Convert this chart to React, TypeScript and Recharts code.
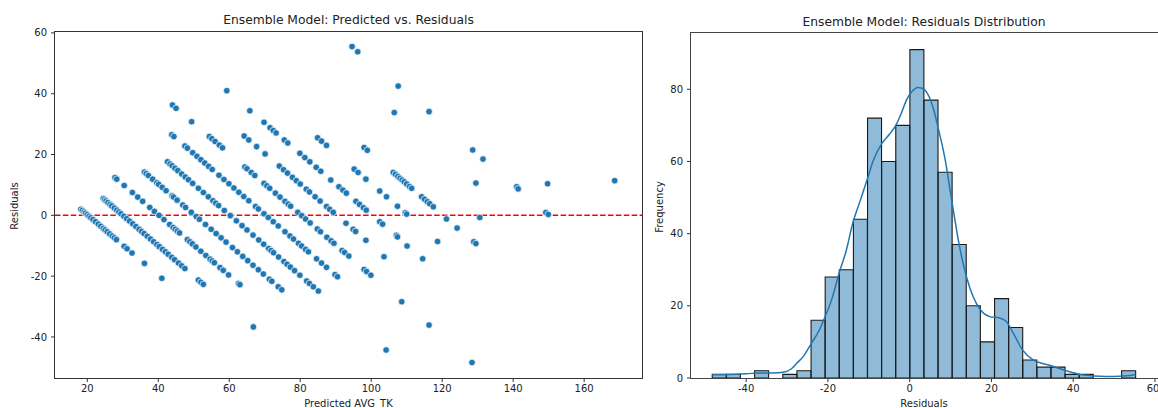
import {
  ScatterChart,
  Scatter,
  ComposedChart,
  Bar,
  Line,
  XAxis,
  YAxis,
  ReferenceLine,
} from "recharts";

// [predicted, residual] pairs, grouped by the diagonal band they sit on
const band20 = [
  [18.2, 2.0], [18.6, 1.6], [19.1, 1.1], [19.5, 0.7], [20.0, 0.2], [20.5, -0.3],
  [21.0, -0.8], [21.6, -1.4], [22.3, -2.1], [23.1, -2.9], [23.8, -3.6], [24.5, -4.3],
  [25.0, -4.8], [25.6, -5.4], [26.3, -6.1], [27.0, -6.8], [27.6, -7.4], [28.2, -8.0],
  [30.4, -10.2], [31.2, -11.0], [32.6, -12.4], [36.1, -15.8], [41.0, -20.7],
];
const band30 = [
  [24.5, 5.5], [24.9, 5.1], [25.3, 4.7], [25.8, 4.2], [26.4, 3.6], [26.9, 3.1],
  [27.6, 2.4], [28.3, 1.7], [28.9, 1.1], [29.5, 0.5], [30.3, -0.3], [31.1, -1.1],
  [31.9, -1.9], [32.8, -2.8], [33.7, -3.7], [34.6, -4.6], [35.3, -5.3], [36.0, -6.0],
  [36.9, -6.9], [37.8, -7.8], [38.7, -8.7], [39.6, -9.6], [40.3, -10.3], [41.2, -11.2],
  [42.0, -12.0], [42.8, -12.8], [43.8, -13.8], [44.6, -14.6], [45.7, -15.7], [46.6, -16.6],
  [47.5, -17.5], [51.3, -21.3], [52.0, -22.0], [52.7, -22.7],
];
const band40 = [
  [27.8, 12.4], [28.3, 11.9], [30.4, 9.8], [32.7, 7.5], [34.2, 6.0], [35.6, 4.6],
  [37.6, 2.6], [38.9, 1.3], [40.2, 0.0], [41.6, -1.4], [43.2, -3.0], [44.2, -4.0],
  [44.8, -4.6], [45.4, -5.2], [46.0, -5.8], [48.2, -8.0], [48.9, -8.7], [49.6, -9.4],
  [50.6, -10.4], [52.0, -11.8], [53.4, -13.2], [54.6, -14.4], [55.2, -15.0], [55.8, -15.6],
  [57.4, -17.2], [58.3, -18.1], [59.8, -19.6], [62.6, -22.4], [63.0, -22.8],
];
const band50 = [
  [36.1, 14.2], [36.6, 13.7], [37.2, 13.1], [38.4, 11.9], [39.6, 10.7], [40.1, 10.2],
  [41.1, 9.2], [42.2, 8.1], [43.9, 6.4], [44.3, 6.0], [45.3, 5.0], [46.9, 3.4],
  [47.7, 2.6], [49.3, 1.0], [50.7, -0.4], [51.6, -1.3], [53.3, -3.0], [54.9, -4.6],
  [56.3, -6.0], [57.7, -7.4], [59.1, -8.8], [60.9, -10.6], [62.3, -12.0], [63.8, -13.5],
  [65.2, -14.9], [66.7, -16.4], [68.2, -17.9], [69.6, -19.3], [71.3, -21.0], [72.0, -21.7],
  [73.8, -23.5], [74.8, -24.5],
];
const band60 = [
  [42.6, 17.6], [43.3, 16.9], [43.9, 16.3], [44.7, 15.5], [45.5, 14.7], [46.6, 13.6],
  [47.6, 12.6], [48.5, 11.7], [49.7, 10.5], [51.3, 8.9], [52.7, 7.5], [54.1, 6.1],
  [55.4, 4.8], [56.2, 4.0], [57.0, 3.2], [58.6, 1.6], [60.3, -0.1], [62.0, -1.8],
  [63.6, -3.4], [65.0, -4.8], [66.7, -6.5], [68.3, -8.1], [69.7, -9.5], [71.1, -10.9],
  [71.8, -11.6], [72.5, -12.3], [73.9, -13.7], [75.4, -15.2], [76.3, -16.1], [77.2, -17.0],
  [78.4, -18.2], [79.9, -19.7], [81.8, -21.6], [82.6, -22.4], [83.7, -23.5], [85.1, -24.9],
];
const band70 = [
  [43.8, 26.5], [44.4, 25.9], [47.5, 22.8], [48.2, 22.1], [49.7, 20.6], [50.9, 19.4],
  [52.0, 18.3], [53.1, 17.2], [54.2, 16.1], [55.2, 15.1], [57.1, 13.2], [58.5, 11.8],
  [59.9, 10.4], [61.3, 9.0], [62.7, 7.6], [64.1, 6.2], [65.5, 4.8], [67.4, 2.9],
  [68.2, 2.1], [69.8, 0.5], [71.0, -0.7], [72.4, -2.1], [73.8, -3.5], [75.7, -5.4],
  [77.1, -6.8], [78.1, -7.8], [79.5, -9.2], [80.4, -10.1], [81.5, -11.2], [82.3, -12.0],
  [84.6, -14.3], [86.0, -15.7], [87.4, -17.1], [89.8, -19.5], [90.5, -20.2],
];
const band80 = [
  [44.0, 36.3], [45.0, 35.2], [49.4, 30.8], [54.4, 25.9], [55.1, 25.2], [56.0, 24.3],
  [57.2, 23.1], [58.1, 22.2], [64.4, 15.9], [65.0, 15.3], [66.2, 14.1], [67.2, 13.1],
  [69.8, 10.5], [70.6, 9.7], [71.4, 8.9], [73.0, 7.3], [74.3, 6.0], [75.7, 4.6],
  [76.6, 3.7], [77.3, 3.0], [79.3, 1.0], [80.4, -0.1], [81.5, -1.2], [82.8, -2.5],
  [84.8, -4.5], [85.7, -5.4], [87.5, -7.2], [88.7, -8.4], [89.5, -9.2], [91.8, -11.6],
  [92.5, -12.2], [93.7, -13.4], [98.0, -17.8], [98.7, -18.5], [99.9, -19.7],
];
const band90 = [
  [64.2, 26.1], [65.5, 24.8], [67.7, 22.6], [70.1, 20.2], [74.1, 16.2], [75.3, 15.0],
  [76.4, 13.9], [77.8, 12.5], [78.9, 11.4], [80.0, 10.3], [81.7, 8.6], [82.6, 7.7],
  [84.2, 6.1], [85.6, 4.7], [87.4, 2.9], [88.3, 2.0], [89.3, 1.0], [92.9, -2.6],
  [94.9, -4.6], [95.6, -5.3], [98.5, -8.2], [103.6, -13.6],
];
const band100 = [
  [59.3, 41.0], [65.8, 34.4], [69.8, 30.6], [71.5, 28.8], [72.4, 27.9], [73.2, 27.1],
  [75.5, 24.8], [76.5, 23.8], [79.9, 20.4], [81.3, 19.0], [82.7, 17.6], [84.5, 15.8],
  [85.8, 14.5], [88.6, 11.6], [90.9, 9.4], [92.0, 8.3], [93.0, 7.3], [95.7, 4.6],
  [96.7, 3.6], [97.8, 2.5], [98.6, 1.7], [102.4, -2.1], [103.2, -2.9], [107.1, -6.6],
  [107.4, -7.1], [110.1, -10.1], [114.5, -14.3],
];
const band110 = [
  [84.9, 25.5], [86.0, 24.4], [87.4, 23.0], [95.2, 15.2], [96.3, 14.1], [98.5, 11.9],
  [102.4, 8.0], [104.3, 6.1], [107.4, 3.0], [109.6, 0.8], [110.0, 0.4], [118.7, -8.6],
];
const band120 = [
  [98.0, 22.3], [98.9, 21.4], [106.2, 14.1], [106.8, 13.5], [107.5, 12.8], [108.1, 12.2],
  [108.7, 11.6], [109.3, 11.0], [110.0, 10.3], [110.8, 9.5], [111.4, 8.9], [114.2, 6.1],
  [115.0, 5.3], [115.8, 4.5], [116.5, 3.8], [117.5, 2.8], [121.2, -1.2], [124.2, -4.2],
  [128.9, -8.7], [129.5, -9.3],
];
const outliers = [
  [94.6, 55.5], [96.2, 53.8], [107.6, 42.5], [106.5, 33.8], [116.3, 34.1], [128.6, 21.5],
  [131.5, 18.5], [129.5, 10.6], [130.6, -0.7], [141.0, 9.4], [141.4, 8.7], [149.7, 10.4],
  [149.2, 0.9], [149.9, 0.3], [168.6, 11.4], [66.8, -36.7], [108.6, -28.4], [116.3, -36.1],
  [104.2, -44.3], [128.4, -48.4],
];

const scatterPoints = [
  ...band20, ...band30, ...band40, ...band50, ...band60, ...band70,
  ...band80, ...band90, ...band100, ...band110, ...band120, ...outliers,
].map(([x, y]) => ({ x, y }));

const scatterXTicks = [20, 40, 60, 80, 100, 120, 140, 160];
const scatterYTicks = [-40, -20, 0, 20, 40, 60];

// histogram: 30 bins from -48.3 to 55.3
const binStart = -48.3;
const binEnd = 55.3;
const binCounts = [
  1, 1, 0, 2, 0, 1, 2, 16, 28, 30, 44, 72, 60, 70, 91,
  77, 57, 37, 20, 10, 22, 14, 5, 3, 3, 1, 1, 0, 0, 2,
];
const bins = binCounts.map((count, i) => ({ bin: `b${i}`, count }));

// kde curve (scaled to counts)
const kdeX = [
  -48.3, -44, -40, -36, -33, -31, -29, -27.7, -26, -24.1, -22, -20.7, -19, -17.3, -15.6,
  -13.9, -12, -10.4, -9, -6.8, -4.9, -3.4, -2, -0.8, 0.5, 2, 3, 4.1, 5.7, 6.9, 8.6, 10.4,
  12.2, 13.9, 15.5, 17.3, 19.6, 22, 23.6, 25.3, 27.6, 30.2, 32.5, 34.6, 38, 41.6, 44, 46.5,
  49.7, 53, 55.3,
];
const kdeY = [
  0.9, 1.0, 1.2, 1.4, 1.4, 1.6, 2.5, 4, 6, 9.5, 13.5, 17, 22, 29, 35,
  43, 49.5, 55, 60, 65, 67.6, 70, 73.5, 77, 79.3, 80.5, 80.3, 79.3, 75, 69.6, 61, 48.4,
  36.4, 28, 22.6, 18.9, 17, 16.6, 15.7, 12.5, 7.8, 5, 4, 3.4, 2.1, 1, 0.7, 0.5,
  0.4, 0.6, 1,
];
const kde = kdeX.map((x, i) => ({ x, y: kdeY[i] }));

const histXTicks = [-40, -20, 0, 20, 40, 60];
const histYTicks = [0, 20, 40, 60, 80];

const FONT = "'DejaVu Sans', sans-serif";
const BLUE = "#1f77b4";
const tickStyle = { fontSize: 10, fill: "#222", fontFamily: FONT };

// right panel geometry
const HIST_W = 508;
const HIST_LEFT_AXIS = 41;
const HIST_MARGIN_RIGHT = 1;
const histDomain: [number, number] = [-53.5, 60.5];
const histPlotW = HIST_W - HIST_LEFT_AXIS - HIST_MARGIN_RIGHT;
const pxPerUnit = histPlotW / (histDomain[1] - histDomain[0]);
const binPadLeft = (binStart - histDomain[0]) * pxPerUnit;
const binPadRight = (histDomain[1] - binEnd) * pxPerUnit;

const Dot = (props: any) => (
  <circle cx={props.cx} cy={props.cy} r={3.3} fill={BLUE} stroke="#fff" strokeWidth={0.7} />
);

const textBase: React.CSSProperties = {
  position: "absolute",
  fontFamily: FONT,
  color: "#222",
  whiteSpace: "nowrap",
  lineHeight: "12px",
};

export default function App() {
  return (
    <div style={{ position: "absolute", left: 0, top: 0, width: 1158, height: 408, background: "#fff", overflow: "hidden" }}>
      {/* left: predicted vs residuals */}
      <div style={{ position: "absolute", left: 0, top: 0 }}>
        <ScatterChart width={650} height={408} margin={{ top: 32, right: 8, bottom: 0, left: 10 }}>
          <XAxis
            type="number"
            dataKey="x"
            domain={[10.9, 176.3]}
            ticks={scatterXTicks}
            allowDataOverflow
            height={30}
            axisLine={false}
            tickLine={{ stroke: "#333" }}
            tickSize={4}
            tickMargin={3}
            tick={tickStyle}
          />
          <YAxis
            type="number"
            dataKey="y"
            domain={[-53.5, 60.3]}
            ticks={scatterYTicks}
            allowDataOverflow
            width={45}
            axisLine={false}
            tickLine={{ stroke: "#333" }}
            tickSize={4}
            tickMargin={4}
            tick={tickStyle}
          />
          <Scatter data={scatterPoints} shape={Dot} isAnimationActive={false} />
          <ReferenceLine y={0} stroke="#ff0000" strokeWidth={1.5} strokeDasharray="5.5 2.4" />
        </ScatterChart>
        <div style={{ position: "absolute", left: 54, top: 31, width: 589, height: 348, border: "1px solid #333", boxSizing: "border-box", pointerEvents: "none" }} />
      </div>

      {/* right: residual distribution */}
      <div style={{ position: "absolute", left: 650, top: 0 }}>
        <ComposedChart
          width={HIST_W}
          height={408}
          data={bins}
          margin={{ top: 33, right: HIST_MARGIN_RIGHT, bottom: 0, left: 0 }}
          barCategoryGap={0}
          barGap={0}
        >
          <XAxis
            xAxisId="num"
            type="number"
            dataKey="x"
            domain={histDomain}
            ticks={histXTicks}
            allowDataOverflow
            height={30}
            axisLine={false}
            tickLine={{ stroke: "#333" }}
            tickSize={4}
            tickMargin={3}
            tick={tickStyle}
          />
          <XAxis
            xAxisId="bins"
            dataKey="bin"
            type="category"
            hide
            height={0}
            padding={{ left: binPadLeft, right: binPadRight }}
          />
          <YAxis
            type="number"
            domain={[0, 95.6]}
            ticks={histYTicks}
            allowDataOverflow
            width={HIST_LEFT_AXIS}
            axisLine={false}
            tickLine={{ stroke: "#333" }}
            tickSize={4}
            tickMargin={4}
            tick={tickStyle}
          />
          <Bar
            xAxisId="bins"
            dataKey="count"
            fill="rgba(31,119,180,0.5)"
            stroke="#1a1a1a"
            strokeWidth={1.1}
            isAnimationActive={false}
          />
          <Line
            xAxisId="num"
            data={kde}
            dataKey="y"
            type="monotone"
            stroke={BLUE}
            strokeWidth={1.5}
            dot={false}
            isAnimationActive={false}
          />
        </ComposedChart>
        <div style={{ position: "absolute", left: 40, top: 32, width: 470, height: 347, border: "1px solid #444", boxSizing: "border-box", pointerEvents: "none" }} />
      </div>

      {/* titles and axis labels */}
      <div style={{ ...textBase, fontSize: 12.3, left: 348.5, top: 14, transform: "translateX(-50%)" }}>
        Ensemble Model: Predicted vs. Residuals
      </div>
      <div style={{ ...textBase, fontSize: 12.3, left: 924, top: 16, transform: "translateX(-50%)" }}>
        Ensemble Model: Residuals Distribution
      </div>
      <div style={{ ...textBase, fontSize: 10, left: 348.5, top: 398, transform: "translateX(-50%)" }}>
        Predicted AVG_TK
      </div>
      <div style={{ ...textBase, fontSize: 10, left: 924, top: 398, transform: "translateX(-50%)" }}>
        Residuals
      </div>
      <div style={{ ...textBase, fontSize: 10, left: 15, top: 206, transform: "translate(-50%, -50%) rotate(-90deg)" }}>
        Residuals
      </div>
      <div style={{ ...textBase, fontSize: 10, left: 660, top: 207, transform: "translate(-50%, -50%) rotate(-90deg)" }}>
        Frequency
      </div>
    </div>
  );
}
